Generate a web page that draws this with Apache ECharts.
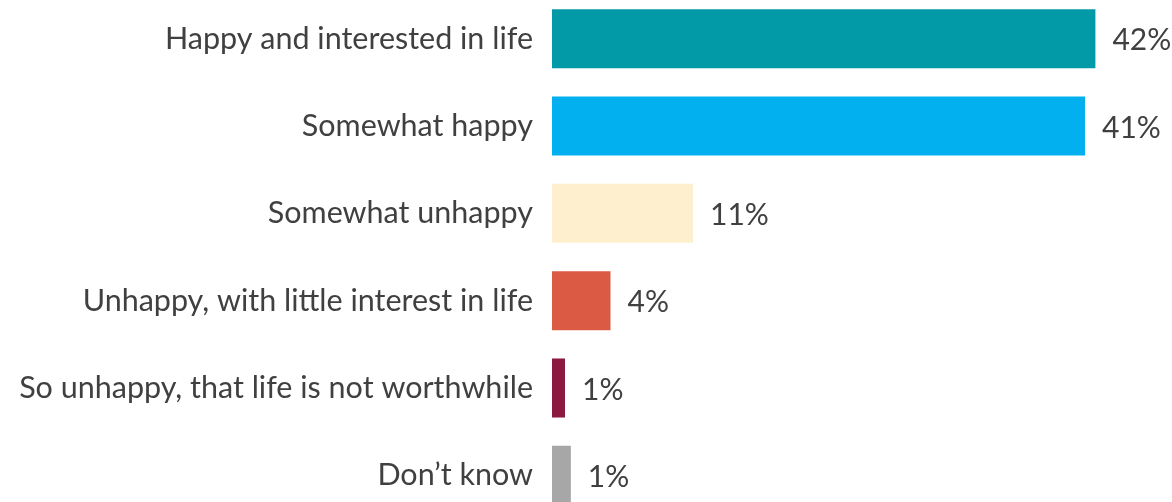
<!DOCTYPE html>
<html>
<head>
<meta charset="utf-8">
<script src="https://cdn.jsdelivr.net/npm/echarts@6/dist/echarts.min.js"></script>
<style>
html,body{margin:0;padding:0;background:#fff;}
#chart{width:1172px;height:502px;}
</style>
</head>
<body>
<div id="chart"></div>
<script>
const categories = [
  'Happy and interested in life',
  'Somewhat happy',
  'Somewhat unhappy',
  'Unhappy, with little interest in life',
  'So unhappy, that life is not worthwhile',
  'Don\u2019t know'
];
const values = [41.8, 41.0, 10.85, 4.5, 1.0, 1.45];
const valueLabels = ['42%', '41%', '11%', '4%', '1%', '1%'];
const colors = ['#039AA8', '#03B0EF', '#FEF0CE', '#DB5A43', '#8C1A40', '#A7A7A8'];

const chart = echarts.init(document.getElementById('chart'), null, {renderer: 'canvas'});
const textColor = '#404040';
const fontFamily = 'Lato, "Open Sans", sans-serif';
chart.setOption({
  animation: false,
  grid: {left: 552, top: -5, width: 611, height: 524, containLabel: false, outerBoundsMode: 'none'},
  xAxis: {
    type: 'value', min: 0, max: 47,
    show: false
  },
  yAxis: {
    type: 'category', inverse: true, data: categories,
    axisLine: {show: false}, axisTick: {show: false}, splitLine: {show: false},
    axisLabel: {color: textColor, fontSize: 30.5, fontFamily: fontFamily, margin: 19, padding: [5, 0, 0, 0]}
  },
  series: [{
    type: 'bar',
    barCategoryGap: '32.4%',
    data: values.map((v, i) => ({value: v, itemStyle: {color: colors[i]}})),
    label: {
      show: true, position: 'right', distance: 17, offset: [0, 2],
      color: textColor, fontSize: 30, fontFamily: fontFamily,
      formatter: p => valueLabels[p.dataIndex]
    }
  }]
});
</script>
</body>
</html>
